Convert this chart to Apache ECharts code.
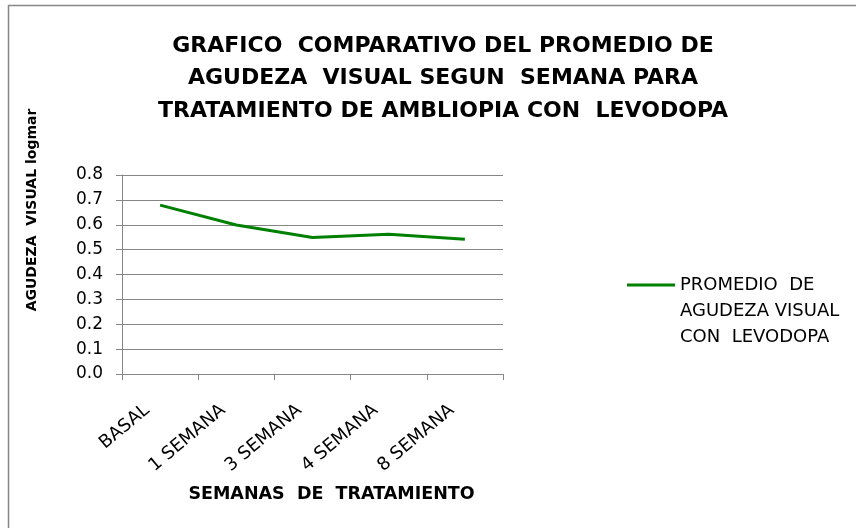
<!DOCTYPE html>
<html>
<head>
<meta charset="utf-8">
<script src="https://cdn.jsdelivr.net/npm/echarts@6/dist/echarts.min.js"></script>
<style>html,body{margin:0;padding:0;background:#fff;}#c{width:856px;height:528px;}</style>
</head>
<body>
<div id="c"></div>
<script>
const categories = ['BASAL', '1 SEMANA', '3 SEMANA', '4 SEMANA', '8 SEMANA'];
const seriesName = 'PROMEDIO  DE\nAGUDEZA VISUAL\nCON  LEVODOPA';
const values = [0.679, 0.599, 0.549, 0.562, 0.542];
const yTicks = { min: 0, max: 0.8, interval: 0.1 };
const titleText = 'GRAFICO  COMPARATIVO DEL PROMEDIO DE\nAGUDEZA  VISUAL SEGUN  SEMANA PARA\nTRATAMIENTO DE AMBLIOPIA CON  LEVODOPA';
const yName = 'AGUDEZA  VISUAL logmar';
const xName = 'SEMANAS  DE  TRATAMIENTO';

const FONT = 'DejaVu Sans';
const chart = echarts.init(document.getElementById('c'), null, { renderer: 'canvas' });
chart.setOption({
  animation: false,
  backgroundColor: '#fff',
  textStyle: { fontFamily: FONT },
  title: {
    text: titleText,
    left: 438, top: 25, textAlign: 'center',
    textStyle: { fontFamily: FONT, fontWeight: 'bold', fontSize: 22, lineHeight: 32.5, color: '#000' }
  },
  graphic: [
    { type: 'rect', shape: { x: 8.5, y: 5.5, width: 900, height: 600 }, style: { fill: 'none', stroke: '#868686', lineWidth: 1.5 }, silent: true },
    { type: 'text', x: 32, y: 210, rotation: Math.PI / 2,
      style: { text: yName, fontFamily: FONT, fontWeight: 'bold', fontSize: 14, fill: '#000', align: 'center', verticalAlign: 'middle' } }
  ],
  legend: {
    left: 627, top: 220, orient: 'vertical', padding: 0,
    itemWidth: 48, itemHeight: 3, itemGap: 4,
    icon: 'rect',
    data: [seriesName],
    formatter: name => '\n\n' + name,
    textStyle: { fontFamily: FONT, fontSize: 18, lineHeight: 26, color: '#000' }
  },
  grid: { left: 122, right: 353, top: 175, bottom: 154 },
  xAxis: {
    type: 'category',
    data: categories,
    name: xName,
    nameLocation: 'middle',
    nameGap: 111,
    nameTextStyle: { fontFamily: FONT, fontWeight: 'bold', fontSize: 17.5, color: '#000', padding: [0, 0, 0, 38] },
    axisLine: { lineStyle: { color: '#868686', width: 1 } },
    axisTick: { show: true, alignWithLabel: false, length: 6, lineStyle: { color: '#868686' } },
    axisLabel: { rotate: 40, fontFamily: FONT, fontSize: 18, color: '#000', margin: 23, interval: 0, padding: [0, 17, 0, 0] },
    splitLine: { show: false }
  },
  yAxis: {
    type: 'value',
    min: yTicks.min, max: yTicks.max, interval: yTicks.interval,
    axisLine: { show: true, lineStyle: { color: '#868686', width: 1 } },
    axisTick: { show: true, length: 6, inside: false, lineStyle: { color: '#868686' } },
    axisLabel: { fontFamily: FONT, fontSize: 17, color: '#000', margin: 19, formatter: v => v.toFixed(1) },
    splitLine: { show: true, lineStyle: { color: '#868686', width: 1 } }
  },
  series: [{
    name: seriesName,
    type: 'line',
    data: values,
    symbol: 'none',
    lineStyle: { color: '#008000', width: 3 },
    itemStyle: { color: '#008000' }
  }]
});
</script>
</body>
</html>
